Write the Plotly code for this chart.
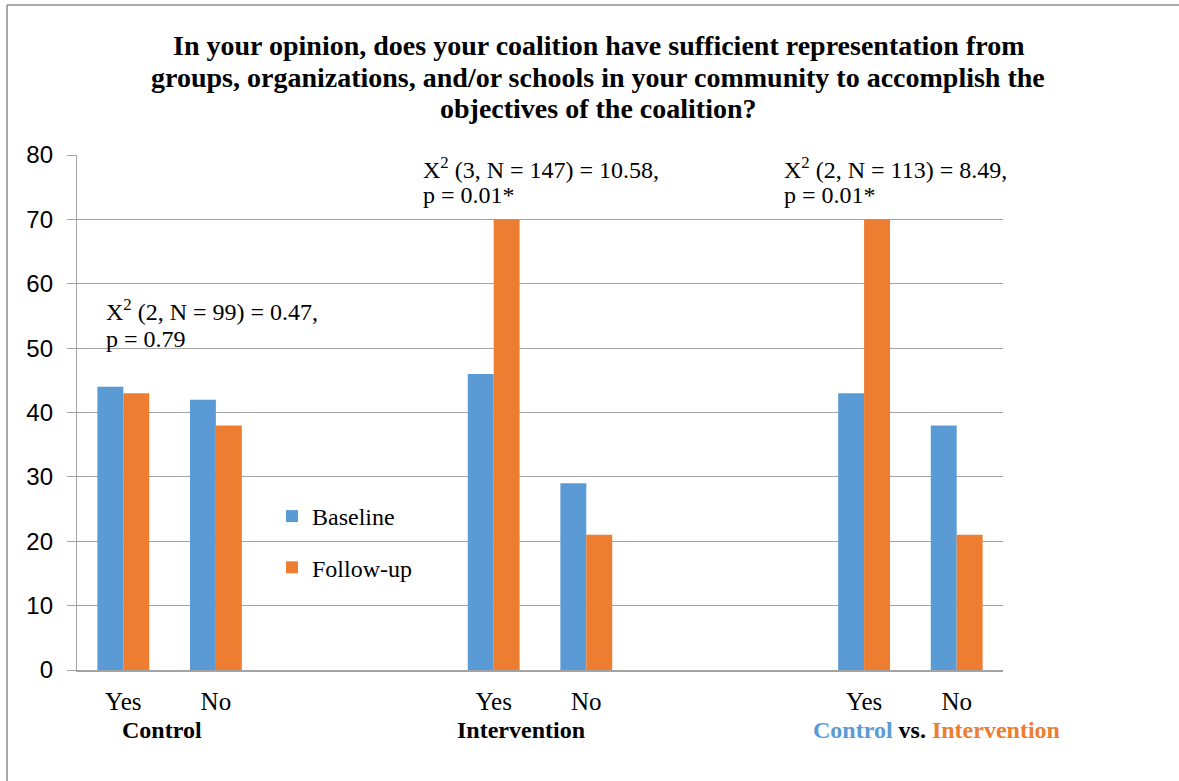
import plotly.graph_objects as go

# ---- data ----
categories = ["C-Yes", "C-No", "gap1", "gap2", "I-Yes", "I-No", "gap3", "gap4", "CI-Yes", "CI-No"]
tick_labels = ["Yes", "No", "", "", "Yes", "No", "", "", "Yes", "No"]
baseline = [44, 42, None, None, 46, 29, None, None, 43, 38]
follow_up = [43, 38, None, None, 70, 21, None, None, 70, 21]
series_names = ["Baseline", "Follow-up"]
group_labels = ["Control", "Intervention", "Control vs. Intervention"]
stats_line1 = ["X<sup>2</sup> (2, N = 99) = 0.47,", "X<sup>2</sup> (3, N = 147) = 10.58,", "X<sup>2</sup> (2, N = 113) = 8.49,"]
stats_line2 = ["p = 0.79", "p = 0.01*", "p = 0.01*"]
title_lines = ["In your opinion, does your coalition have sufficient representation from",
               "groups, organizations, and/or schools in your community to accomplish the",
               "objectives of the coalition?"]

BLUE = "#5b9bd5"
ORANGE = "#ed7d31"
GRID = "#a3a3a3"
BORDER = "#8c8c8c"
SERIF = "Liberation Serif, Times New Roman, serif"
SANS = "Liberation Sans, Arial, sans-serif"

W, H = 1179, 781
L, R, T, B = 77, 1003, 155, 670


def xp(px):
    return (px - L) / (R - L)


def yp(py):
    return (B - py) / (B - T)


fig = go.Figure()
fig.add_trace(go.Bar(x=categories, y=baseline, name=series_names[0], marker_color=BLUE,
                     marker_line_width=0, legendgroup="a"))
fig.add_trace(go.Bar(x=categories, y=follow_up, name=series_names[1], marker_color=ORANGE,
                     marker_line_width=0, legendgroup="b"))

annotations = []
# title
for line, ty in zip(title_lines, [46, 77, 108]):
    annotations.append(dict(text="<b>" + line + "</b>", xref="paper", yref="paper",
                            x=xp(598), y=yp(ty), xanchor="center", yanchor="middle",
                            showarrow=False, font=dict(family=SERIF, size=28, color="black")))
# stats
stat_pos = [(104, 310, 339), (421, 168, 195), (782, 168, 195)]
for (px, py1, py2), s1, s2 in zip(stat_pos, stats_line1, stats_line2):
    annotations.append(dict(text=s1, xref="paper", yref="paper", x=xp(px), y=yp(py1),
                            xanchor="left", yanchor="middle", showarrow=False,
                            font=dict(family=SERIF, size=24, color="black")))
    annotations.append(dict(text=s2, xref="paper", yref="paper", x=xp(px), y=yp(py2),
                            xanchor="left", yanchor="middle", showarrow=False,
                            font=dict(family=SERIF, size=24, color="black")))
# group labels
group_texts = [
    "<b>" + group_labels[0] + "</b>",
    "<b>" + group_labels[1] + "</b>",
    "<b><span style='color:%s'>Control</span> vs. <span style='color:%s'>Intervention</span></b>" % (BLUE, ORANGE),
]
group_x = [162, 521, 936]
for gx, gt in zip(group_x, group_texts):
    annotations.append(dict(text=gt, xref="paper", yref="paper", x=xp(gx), y=yp(730),
                            xanchor="center", yanchor="middle", showarrow=False,
                            font=dict(family=SERIF, size=24, color="black")))

# outer frame (left and top edges visible in the picture)
shapes = [
    dict(type="line", xref="paper", yref="paper", x0=xp(7), x1=xp(1179), y0=yp(5), y1=yp(5),
         line=dict(color=BORDER, width=1.5), layer="below"),
    dict(type="line", xref="paper", yref="paper", x0=xp(7), x1=xp(7), y0=yp(5), y1=yp(781),
         line=dict(color=BORDER, width=1.5), layer="below"),
]

fig.update_layout(
    width=W, height=H,
    margin=dict(l=L, r=W - R, t=T, b=H - B, pad=0),
    paper_bgcolor="white", plot_bgcolor="white",
    barmode="group", bargap=0.44, bargroupgap=0,
    showlegend=True,
    legend=dict(x=xp(272), y=yp(494), xanchor="left", yanchor="top",
                bgcolor="rgba(0,0,0,0)", font=dict(family=SERIF, size=24, color="black"),
                tracegroupgap=17, traceorder="grouped", itemclick=False),
    annotations=annotations,
    shapes=shapes,
    xaxis=dict(type="category", categoryorder="array", categoryarray=categories,
               tickmode="array", tickvals=categories, ticktext=tick_labels,
               showgrid=False, showline=True, linecolor=GRID, linewidth=1.5,
               ticks="", tickfont=dict(family=SERIF, size=25, color="black"),
               ticklabelstandoff=8),
    yaxis=dict(range=[0, 80], dtick=10, showgrid=True, gridcolor=GRID, gridwidth=1.3,
               zeroline=False, showline=True, linecolor=GRID, linewidth=1.3,
               ticks="outside", ticklen=9, tickcolor=GRID, tickwidth=1.3,
               tickfont=dict(family=SANS, size=24, color="black"),
               ticklabelstandoff=9),
)

fig.write_html("out.html", config={"displayModeBar": False},
               post_script="document.body.style.margin='0px';document.body.style.overflow='hidden';")
